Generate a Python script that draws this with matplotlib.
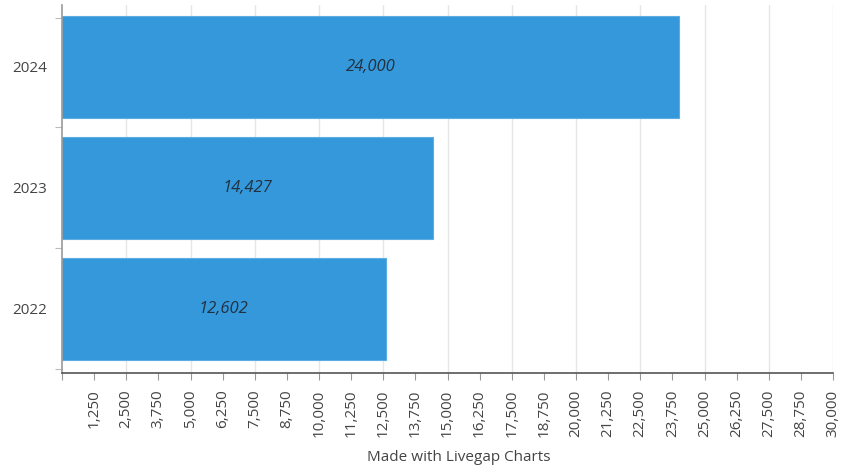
import matplotlib.pyplot as plt
from matplotlib.ticker import MultipleLocator, FuncFormatter

years = ['2022', '2023', '2024']
values = [12602, 14427, 24000]
bar_labels = ['12,602', '14,427', '24,000']

plt.rcParams['font.family'] = ['Open Sans', 'DejaVu Sans']

fig = plt.figure(figsize=(8.41, 4.66), dpi=100)
ax = fig.add_axes([62 / 841, 93 / 466, 771 / 841, 368 / 466])

bars = ax.barh(years, values, height=0.84, color='#3498db',
               edgecolor='#5dade2', linewidth=0.8, zorder=2)

for rect, lab in zip(bars, bar_labels):
    ax.text(rect.get_width() / 2, rect.get_y() + rect.get_height() / 2, lab,
            ha='center', va='center', style='italic', fontsize=12,
            color='#22313f', zorder=3)

ax.set_xlim(0, 30000)
ax.set_ylim(-0.53, 2.51)

ax.xaxis.set_major_locator(MultipleLocator(1250))
ax.xaxis.set_major_formatter(FuncFormatter(lambda v, p: '' if v == 0 else f'{int(v):,}'))
ax.tick_params(axis='x', rotation=90, labelsize=11, labelcolor='#444444',
               color='#999999', length=5, width=0.8, pad=7)
for v in range(2500, 30001, 2500):
    ax.axvline(v, color='#e6e6e6', linewidth=1, zorder=1)

ax.set_yticks([0, 1, 2])
ax.set_yticks([-0.5, 0.5, 1.5, 2.4], minor=True)
ax.tick_params(axis='y', which='major', length=0, pad=11, labelsize=11,
               labelcolor='#444444')
ax.tick_params(axis='y', which='minor', length=5, color='#bbbbbb', width=0.8)

for s in ['top', 'right']:
    ax.spines[s].set_visible(False)
ax.spines['left'].set_color('#999999')
ax.spines['bottom'].set_color('#555555')
ax.spines['left'].set_linewidth(1.2)
ax.spines['bottom'].set_linewidth(1.2)

ax.set_xlabel('Made with Livegap Charts', fontsize=11, color='#444444')
ax.xaxis.set_label_coords(0.515, -0.21)

fig.savefig('out.png', dpi=100)
